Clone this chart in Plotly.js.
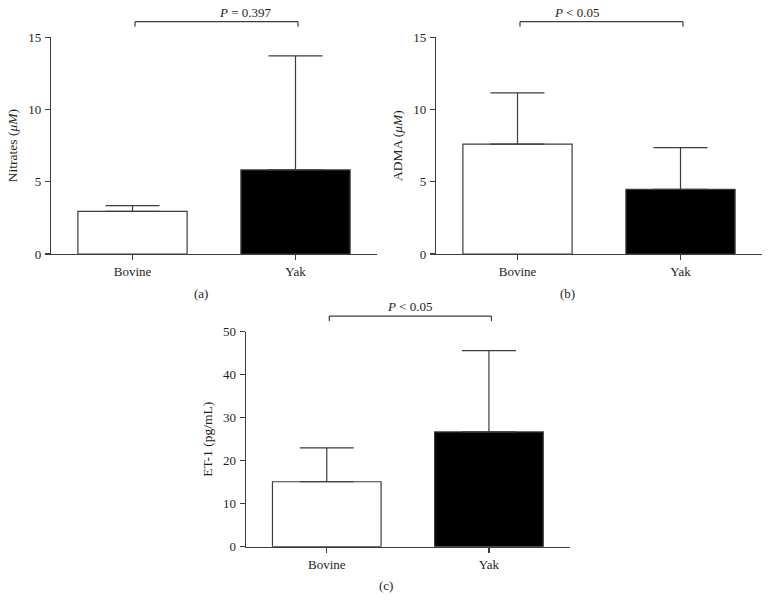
<!DOCTYPE html>
<html>
<head>
<meta charset="utf-8">
<script src="https://cdn.plot.ly/plotly-3.0.1.min.js"></script>
<style>html,body{margin:0;padding:0;background:#fff;}#chart{width:770px;height:600px;}</style>
</head>
<body>
<div id="chart"></div>
<script>
// Data
const categories = ["Bovine", "Yak"];
const nitratesMean = [2.95, 5.82];
const nitratesSD = [0.40, 7.90];
const admaMean = [7.60, 4.48];
const admaSD = [3.55, 2.88];
const et1Mean = [15.1, 26.7];
const et1SD = [7.9, 18.9];
const panelLabels = ["(a)", "(b)", "(c)"];
const pTexts = ["<i>P</i> = 0.397", "<i>P</i> < 0.05", "<i>P</i> < 0.05"];
const yTitles = ["Nitrates (<i>μM</i>)", "ADMA (<i>μM</i>)", "ET-1 (pg/mL)"];
const yRanges = [[0, 15], [0, 15], [0, 50]];
const yTicks = [[0, 5, 10, 15], [0, 5, 10, 15], [0, 10, 20, 30, 40, 50]];

const W = 770, H = 600;
const lineCol = "#3c3c3c";
const textCol = "#1e1e1e";
const fontFam = "Liberation Serif, DejaVu Serif, serif";
const fs = 13;

const means = [nitratesMean, admaMean, et1Mean];
const sds = [nitratesSD, admaSD, et1SD];
const xDomains = [[51 / W, 377 / W], [436 / W, 762 / W], [245.7 / W, 570 / W]];
const yDomains = [[1 - 254 / H, 1 - 37.3 / H], [1 - 254 / H, 1 - 37.3 / H], [1 - 546.7 / H, 1 - 331.7 / H]];

const traces = [];
const layout = {
  width: W, height: H,
  margin: {l: 0, r: 0, t: 0, b: 0},
  paper_bgcolor: "#fff", plot_bgcolor: "rgba(0,0,0,0)",
  showlegend: false,
  font: {family: fontFam, size: fs, color: textCol},
  shapes: [], annotations: []
};

for (let i = 0; i < 3; i++) {
  const sfx = i === 0 ? "" : String(i + 1);
  traces.push({
    type: "bar",
    x: categories,
    y: means[i],
    xaxis: "x" + sfx, yaxis: "y" + sfx,
    width: 0.67,
    marker: {color: ["#ffffff", "#000000"], line: {color: lineCol, width: 1.2}},
    error_y: {type: "data", symmetric: false, array: sds[i], arrayminus: [0, 0],
              color: lineCol, thickness: 1.2, width: 27},
    hoverinfo: "none"
  });
  const common = {
    showgrid: false, zeroline: false, showline: true, linecolor: lineCol, linewidth: 1.2,
    ticks: "outside", ticklen: 5, tickwidth: 1.2, tickcolor: lineCol,
    tickfont: {family: fontFam, size: fs, color: textCol}, fixedrange: true
  };
  layout["xaxis" + sfx] = Object.assign({}, common, {
    domain: xDomains[i], anchor: "y" + sfx, type: "category", range: [-0.5, 1.5]
  });
  layout["yaxis" + sfx] = Object.assign({}, common, {
    domain: yDomains[i], anchor: "x" + sfx, range: yRanges[i], tickvals: yTicks[i],
    ticklabelstandoff: 1,
    title: {text: yTitles[i], font: {family: fontFam, size: 13.5, color: textCol}, standoff: 7}
  });

  // bracket in paper coordinates from category centres
  const xd = xDomains[i], yd = yDomains[i];
  const toPx = c => xd[0] + (c + 0.5) / 2 * (xd[1] - xd[0]);
  const x0 = toPx(0) + 2.5 / W, x1 = toPx(1) + 2.5 / W;
  const yTopPx = (1 - yd[1]) * H;
  const yb = 1 - (yTopPx - 15.6) / H;
  const ye = 1 - (yTopPx - 10.6) / H;
  const lineStyle = {color: lineCol, width: 1.2};
  layout.shapes.push({type: "line", xref: "paper", yref: "paper", x0: x0, x1: x1, y0: yb, y1: yb, line: lineStyle});
  layout.shapes.push({type: "line", xref: "paper", yref: "paper", x0: x0, x1: x0, y0: yb, y1: ye, line: lineStyle});
  layout.shapes.push({type: "line", xref: "paper", yref: "paper", x0: x1, x1: x1, y0: yb, y1: ye, line: lineStyle});
  layout.annotations.push({
    xref: "paper", yref: "paper", x: (x0 + x1) / 2, y: yb, yanchor: "bottom", yshift: 0,
    text: pTexts[i], showarrow: false, font: {family: fontFam, size: fs, color: textCol}
  });
  // panel label
  const labelCx = [192 / W, 577 / W, 386 / W][i];
  const labelY = [293, 293, 585][i];
  layout.annotations.push({
    xref: "paper", yref: "paper", x: labelCx, y: 1 - labelY / H, yanchor: "middle",
    text: panelLabels[i], showarrow: false, font: {family: fontFam, size: fs, color: textCol}
  });
}

Plotly.newPlot("chart", traces, layout, {displayModeBar: false, staticPlot: true});
</script>
</body>
</html>
